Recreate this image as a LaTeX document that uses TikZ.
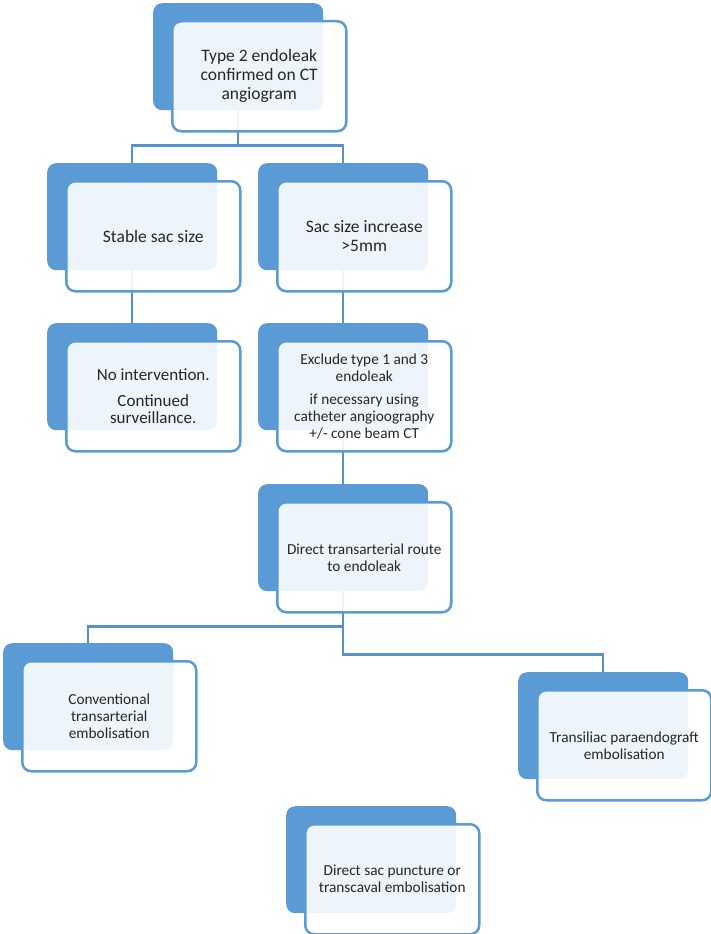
\documentclass[tikz,border=0pt]{standalone}
\usepackage{fontspec}
\setmainfont{Carlito}
\usetikzlibrary{calc}
\definecolor{blk}{HTML}{5B9BD5}
\definecolor{lnk}{HTML}{5590CF}
\pgfdeclarelayer{bg}
\pgfsetlayers{bg,main}
\newcommand\fbig{\fontsize{17.5}{19}\selectfont}
\newcommand\fbigt{\fontsize{17}{16.8}\selectfont}
\newcommand\fsmall{\fontsize{15.3}{17}\selectfont}
\begin{document}
\begin{tikzpicture}[x=1pt,y=-1pt,
  darkbox/.style={fill=blk, rounded corners=9pt, minimum width=170pt, minimum height=107pt, inner sep=0pt, anchor=north west},
  frontbox/.style={draw=blk, line width=2.5pt, fill=white, fill opacity=0.9, text opacity=1, text=black!85, rounded corners=9pt, minimum width=174pt, minimum height=110pt, inner sep=0pt, align=center, anchor=north west},
  conn/.style={draw=lnk, line width=2.3pt}]
\useasboundingbox (0,0) rectangle (711,934);
% dark blocks
\node[darkbox] (d1) at (153,3) {};
\node[darkbox] (d2) at (47,163) {};
\node[darkbox] (d3) at (258,163) {};
\node[darkbox] (d4) at (47,323) {};
\node[darkbox] (d5) at (258,323) {};
\node[darkbox] (d6) at (258,484) {};
\node[darkbox] (d7) at (3,643) {};
\node[darkbox] (d8) at (518,672) {};
\node[darkbox] (d9) at (286,806) {};
% front blocks
\node[frontbox, font=\fbig] (f1) at ($(d1.north west)+(18,17)$) {Type 2 endoleak\\confirmed on CT\\angiogram};
\node[frontbox, font=\fbig] (f2) at ($(d2.north west)+(18,17)$) {Stable sac size};
\node[frontbox, font=\fbig] (f3) at ($(d3.north west)+(18,17)$) {Sac size increase\\>5mm};
\node[frontbox, font=\fbigt] (f4) at ($(d4.north west)+(18,17)$) {No intervention.\\[9pt]Continued\\surveillance.};
\node[frontbox, font=\fsmall] (f5) at ($(d5.north west)+(18,17)$) {Exclude type 1 and 3\\endoleak\\[6pt]if necessary using\\catheter angioography\\+/- cone beam CT};
\node[frontbox, font=\fsmall] (f6) at ($(d6.north west)+(18,17)$) {Direct transarterial route\\to endoleak};
\node[frontbox, font=\fsmall] (f7) at ($(d7.north west)+(18,17)$) {Conventional\\transarterial\\embolisation};
\node[frontbox, font=\fsmall] (f8) at ($(d8.north west)+(18,17)$) {Transiliac paraendograft\\embolisation};
\node[frontbox, font=\fsmall] (f9) at ($(d9.north west)+(18,17)$) {Direct sac puncture or\\transcaval embolisation};
% connectors
\begin{pgfonlayer}{bg}
\coordinate (j1) at ($(d1.south)+(0,35)$);
\draw[conn] (d1.south) -- (j1) -| (d2.north);
\draw[conn] (j1) -| (d3.north);
\draw[conn] (d2.south) -- (d4.north);
\draw[conn] (d3.south) -- (d5.north);
\draw[conn] (d5.south) -- (d6.north);
\coordinate (j6) at ($(d6.south)+(0,35)$);
\coordinate (j7) at ($(d6.south)+(0,63)$);
\draw[conn] (d6.south) -- (j6) -| (d7.north);
\draw[conn] (j6) -- (j7) -| (d8.north);
\end{pgfonlayer}
\end{tikzpicture}
\end{document}
